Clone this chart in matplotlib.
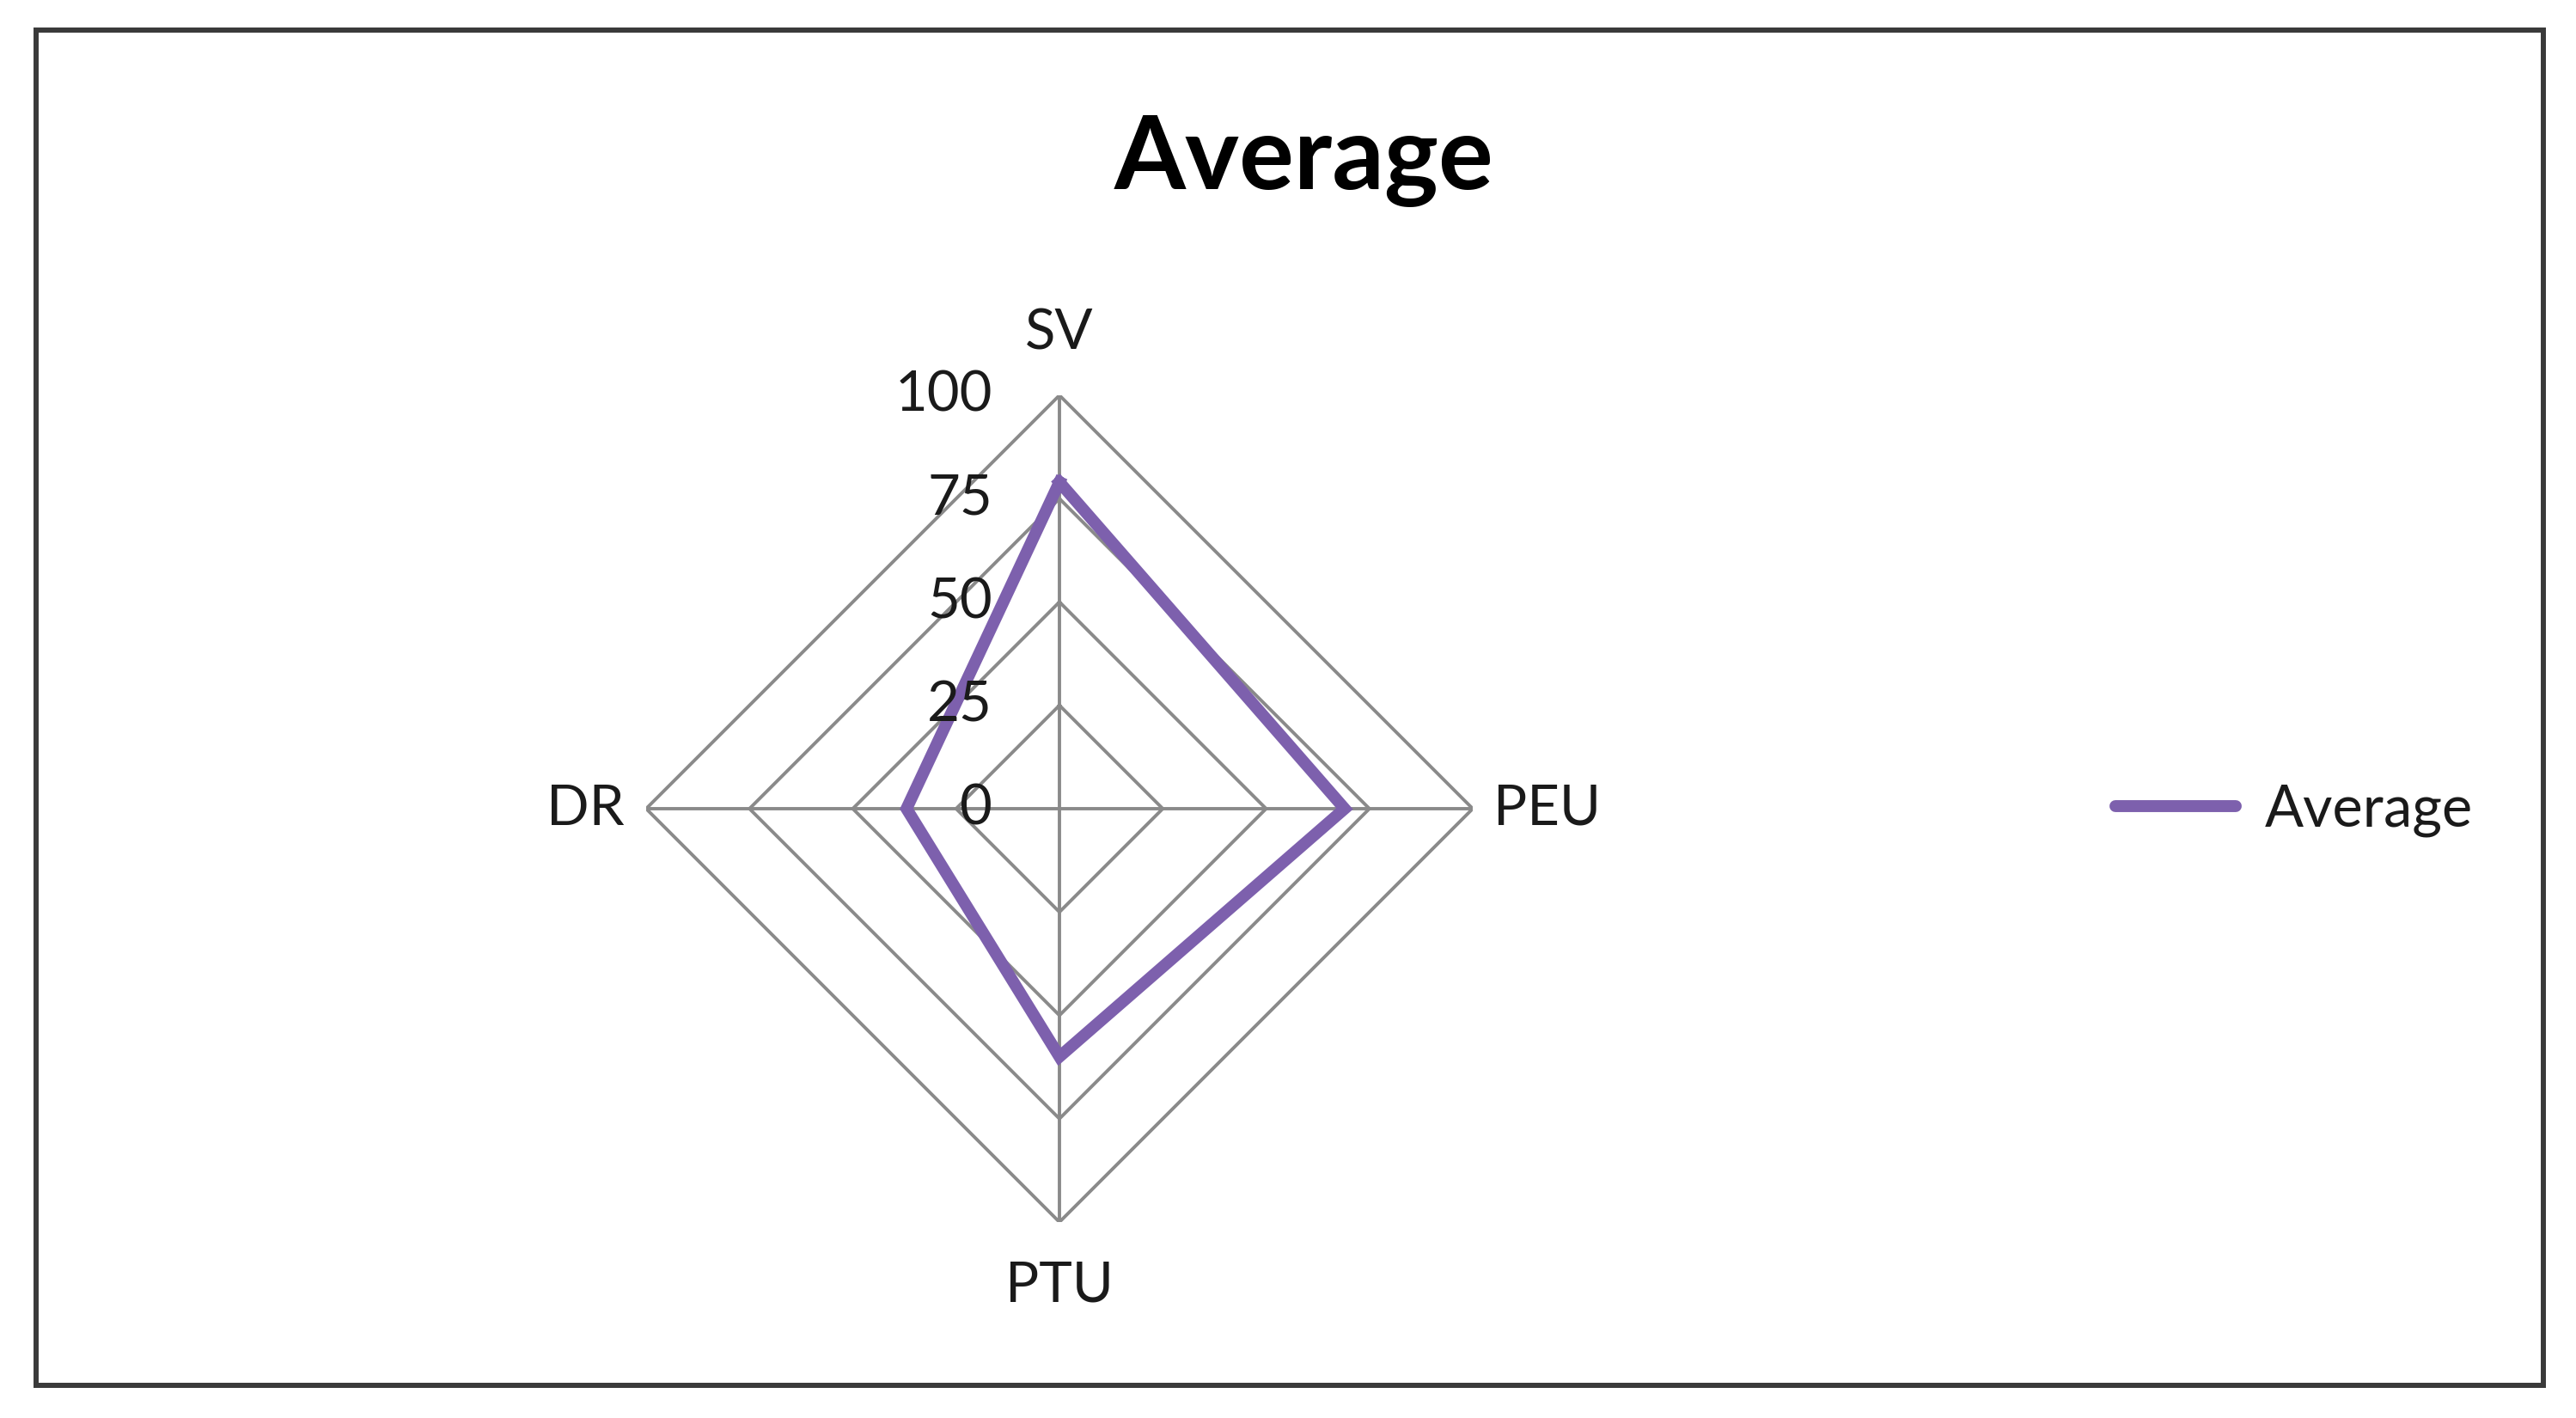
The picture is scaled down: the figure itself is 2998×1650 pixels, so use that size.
import numpy as np
import matplotlib.pyplot as plt
from matplotlib.patches import Rectangle

# ── data ──────────────────────────────────────
categories = ["SV", "PEU", "PTU", "DR"]
values     = [79, 69, 60, 37]
ring_ticks = [0, 25, 50, 75, 100]
series_name = "Average"

# ── style ─────────────────────────────────────
W, H, DPI = 2998, 1650, 100
GRID_C   = "#8a8a8a"
LINE_C   = "#7d60ad"
TEXT_C   = "#1a1a1a"
FS       = 47
plt.rcParams["font.family"] = ["Lato", "DejaVu Sans"]

fig = plt.figure(figsize=(W / DPI, H / DPI), dpi=DPI)
fig.patch.set_facecolor("white")

# outer frame
fig.add_artist(Rectangle((42 / W, 1 - 1612 / H), (2960 - 42) / W, (1612 - 35) / H,
                         transform=fig.transFigure, fill=False,
                         edgecolor="#3a3a3a", linewidth=4.3))

fig.text(1518 / W, 1 - 220 / H, "Average", ha="center", va="baseline",
         fontsize=86, fontweight="bold", color="black")

# radar axes: centre (1233, 941) px, radius 481 px
cx, cy, rad = 1233, 941, 481
ax = fig.add_axes([(cx - rad) / W, 1 - (cy + rad) / H, 2 * rad / W, 2 * rad / H],
                  projection="polar")
ax.set_theta_zero_location("N")
ax.set_theta_direction(-1)
ax.set_ylim(0, 100)
ax.grid(False)
ax.spines["polar"].set_visible(False)
ax.set_xticks([])
ax.set_yticks([])
ax.patch.set_alpha(0)

n = len(categories)
angles = np.linspace(0, 2 * np.pi, n, endpoint=False)
closed = np.append(angles, angles[0])

for r in ring_ticks[1:]:
    ax.plot(closed, [r] * (n + 1), color=GRID_C, lw=2.8, zorder=1)
for a in angles:
    ax.plot([a, a], [0, 100], color=GRID_C, lw=2.8, zorder=1)

vals = values + values[:1]
ax.plot(closed, vals, color=LINE_C, lw=10, solid_joinstyle="miter", zorder=3)

# ring value labels along the SV spoke
for r in ring_ticks:
    ax.annotate(str(r), xy=(0, r), xytext=(-78, 0), textcoords="offset pixels",
                ha="right", va="center", fontsize=FS, color=TEXT_C, zorder=4)

# category labels
offsets = {
    "SV":  ((0, 72), "center", "center"),
    "PEU": ((24, 0), "left", "center"),
    "PTU": ((0, -74), "center", "center"),
    "DR":  ((-25, 0), "right", "center"),
}
for a, cat in zip(angles, categories):
    off, ha, va = offsets[cat]
    ax.annotate(cat, xy=(a, 100), xytext=off, textcoords="offset pixels",
                ha=ha, va=va, fontsize=FS, color=TEXT_C, annotation_clip=False)

# legend
leg = fig.legend([plt.Line2D([], [], color=LINE_C, lw=10, solid_capstyle="round")],
                 [series_name], loc="center left",
                 bbox_to_anchor=(2402 / W, 1 - 943 / H), frameon=False,
                 fontsize=FS + 1, handlelength=2.1, handletextpad=0.5)
for t in leg.get_texts():
    t.set_color(TEXT_C)

fig.savefig("out.png", dpi=DPI, facecolor="white")
